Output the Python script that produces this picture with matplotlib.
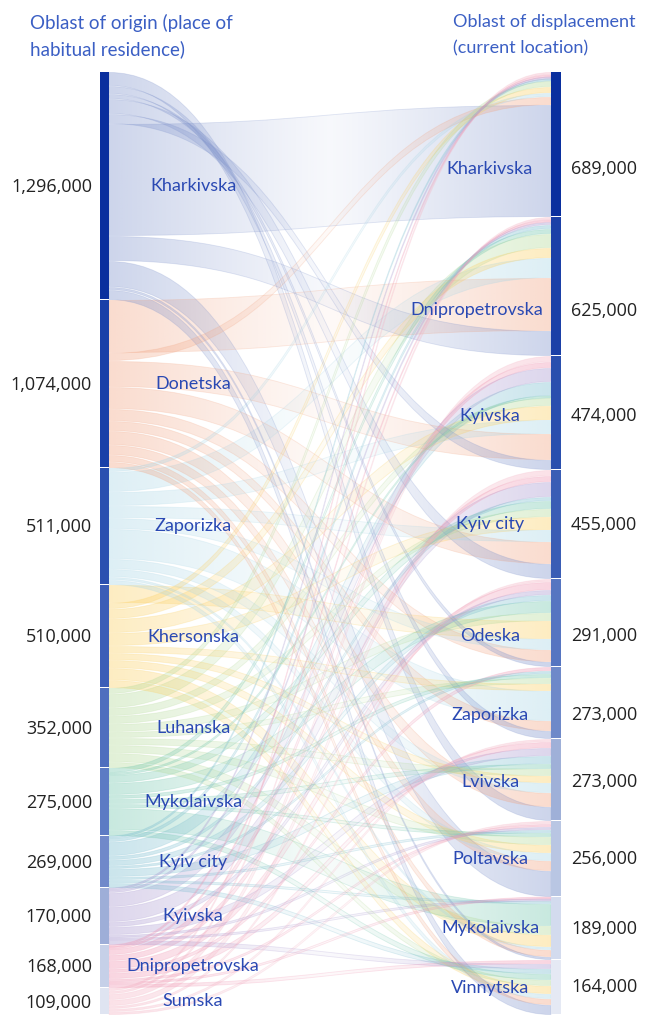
import matplotlib
matplotlib.use('Agg')
import matplotlib.pyplot as plt
import numpy as np
from matplotlib.path import Path
from matplotlib.patches import PathPatch, Rectangle
from matplotlib.colors import to_rgb

plt.rcParams['font.family'] = ['Lato', 'DejaVu Sans']

origins = ['Kharkivska', 'Donetska', 'Zaporizka', 'Khersonska', 'Luhanska',
           'Mykolaivska', 'Kyiv city', 'Kyivska', 'Dnipropetrovska', 'Sumska']
origin_totals = ['1,296,000', '1,074,000', '511,000', '510,000', '352,000',
                 '275,000', '269,000', '170,000', '168,000', '109,000']

destinations = ['Kharkivska', 'Dnipropetrovska', 'Kyivska', 'Kyiv city', 'Odeska',
                'Zaporizka', 'Lvivska', 'Poltavska', 'Mykolaivska', 'Vinnytska']
dest_totals = ['689,000', '625,000', '474,000', '455,000', '291,000',
               '273,000', '273,000', '256,000', '189,000', '164,000']

# estimated widths of the drawn flows (rows = origin, cols = destination)
flows = np.array([
    [112, 25, 10, 15,  5,  8, 14, 26,  3, 10],   # Kharkivska
    [  8, 53, 26, 22, 12, 10, 14, 10,  7,  6],   # Donetska
    [  4, 20, 14, 12, 11, 30, 10,  8,  3,  5],   # Zaporizka
    [  6, 10, 14, 13, 18,  7,  7,  8, 12,  8],   # Khersonska
    [  6, 14,  8,  8,  8,  6,  7,  8,  9,  6],   # Luhanska
    [  0,  5,  2,  8, 12,  4,  5,  4, 22,  6],   # Mykolaivska
    [  2,  4, 14,  4,  6,  3,  8,  3,  3,  5],   # Kyiv city
    [  2,  3, 14, 15,  5,  0,  8,  3,  2,  5],   # Kyivska
    [  2,  2,  6,  6,  8,  4,  6,  3,  2,  4],   # Dnipropetrovska
    [  3,  3,  6,  6,  3,  0,  3,  3,  0,  0],   # Sumska
])

# colours
flow_colors = ['#7f93cc', '#f2a583', '#a9d6e6', '#fcd062', '#b3da98',
               '#72c6ad', '#78bccf', '#a897d0', '#f095b2', '#f5b3c4']
left_bar_colors = ['#0a2f9e', '#1a40a8', '#2b50b0', '#3c5eb7', '#4f6fbe',
                   '#5c7bc4', '#7089ca', '#9eaed8', '#c6d0e8', '#dfe4f1']
right_bar_colors = ['#0a2f9e', '#1b40a7', '#2a4fae', '#3a5db5', '#5675c1',
                    '#6e89c9', '#9fb0d8', '#b9c6e3', '#d3dbee', '#e5e9f4']
label_color = '#2a49b3'
title_color = '#3b5fc4'
num_color = '#222222'

# stacking order of flows at the origin bar (default: by destination)
src_order = {0: [6, 5, 4, 3, 2, 0, 1, 7, 8, 9],
             1: [1, 0, 2, 3, 4, 5, 6, 7, 8, 9],
             3: [4, 0, 1, 2, 3, 5, 6, 7, 8, 9]}
# small vertical nudges of destination labels (pixels)
right_label_dy = [24, 24, 3, 0, 13, 12, 2, 0, 0, 0]

W, H = 647, 1016
TOP, BOTTOM = 72, 1015
XL0, XL1 = 100, 109
XR0, XR1 = 551, 561

fig = plt.figure(figsize=(W / 100, H / 100), dpi=100)
ax = fig.add_axes([0, 0, 1, 1])

scale = (BOTTOM - TOP) / flows.sum()
row_tot = flows.sum(axis=1)
col_tot = flows.sum(axis=0)
left_y = TOP + np.concatenate([[0], np.cumsum(row_tot)]) * scale
right_y = TOP + np.concatenate([[0], np.cumsum(col_tot)]) * scale

# positions of each flow at its origin
src_pos = {}
for i in range(len(origins)):
    y = left_y[i]
    for j in src_order.get(i, list(range(len(destinations)))):
        v = flows[i, j] * scale
        if v > 0:
            src_pos[(i, j)] = (y, y + v)
        y += v

# positions at destination: later origins on top
dst_pos = {}
for j in range(len(destinations)):
    y = right_y[j]
    for i in range(len(origins) - 1, -1, -1):
        v = flows[i, j] * scale
        if v > 0:
            dst_pos[(i, j)] = (y, y + v)
        y += v


def draw_flow(a0, a1, b0, b1, color):
    # shrink a bit so thin white gaps show between flows
    g = 0.45
    if a1 - a0 > 2:
        a0, a1, b0, b1 = a0 + g, a1 - g, b0 + g, b1 - g
    x0, x1 = XL1, XR0
    xm = (x0 + x1) / 2
    verts = [(x0, a0), (xm, a0), (xm, b0), (x1, b0),
             (x1, b1), (xm, b1), (xm, a1), (x0, a1), (x0, a0)]
    codes = [Path.MOVETO, Path.CURVE4, Path.CURVE4, Path.CURVE4,
             Path.LINETO, Path.CURVE4, Path.CURVE4, Path.CURVE4, Path.CLOSEPOLY]
    rgb = to_rgb(color)
    patch = PathPatch(Path(verts, codes), facecolor='none',
                      edgecolor=rgb + (0.24,), lw=0.6)
    ax.add_patch(patch)
    t = np.linspace(0, 1, 256)
    alpha = 0.06 + 0.33 * np.abs(2 * t - 1) ** 1.1
    img = np.zeros((1, 256, 4))
    img[..., :3] = rgb
    img[..., 3] = alpha
    im = ax.imshow(img, extent=[x0, x1, max(a1, b1), min(a0, b0)],
                   aspect='auto', interpolation='bilinear')
    im.set_clip_path(patch)


keys = sorted(src_pos.keys(), key=lambda k: -flows[k])
for (i, j) in keys:
    a0, a1 = src_pos[(i, j)]
    b0, b1 = dst_pos[(i, j)]
    draw_flow(a0, a1, b0, b1, flow_colors[i])

# bars
for i in range(len(origins)):
    ax.add_patch(Rectangle((XL0, left_y[i]), XL1 - XL0, left_y[i + 1] - left_y[i] - 1,
                           facecolor=left_bar_colors[i], edgecolor='none'))
    yc = (left_y[i] + left_y[i + 1]) / 2
    ax.text(193, yc, origins[i], ha='center', va='center', fontsize=13,
            color=label_color)
    ax.text(92, yc + 1, origin_totals[i], ha='right', va='center', fontsize=13,
            color=num_color, family=['Open Sans', 'DejaVu Sans'])

for j in range(len(destinations)):
    ax.add_patch(Rectangle((XR0, right_y[j]), XR1 - XR0, right_y[j + 1] - right_y[j] - 1,
                           facecolor=right_bar_colors[j], edgecolor='none'))
    yc = (right_y[j] + right_y[j + 1]) / 2 + right_label_dy[j]
    if len(destinations[j]) > 12:
        ax.text(543, yc, destinations[j], ha='right', va='center', fontsize=13,
                color=label_color)
    else:
        ax.text(490, yc, destinations[j], ha='center', va='center', fontsize=13,
                color=label_color)
    ax.text(571, yc, dest_totals[j], ha='left', va='center', fontsize=13,
            color=num_color, family=['Open Sans', 'DejaVu Sans'])

# column titles
ax.text(30, 29, 'Oblast of origin (place of', ha='left', va='baseline',
        fontsize=13.5, color=title_color)
ax.text(30, 55, 'habitual residence)', ha='left', va='baseline',
        fontsize=13.5, color=title_color)
ax.text(453, 27, 'Oblast of displacement', ha='left', va='baseline',
        fontsize=13, color=title_color)
ax.text(453, 53, '(current location)', ha='left', va='baseline',
        fontsize=13, color=title_color)

ax.set_xlim(0, W)
ax.set_ylim(H, 0)
ax.axis('off')
fig.savefig('out.png', dpi=100)
